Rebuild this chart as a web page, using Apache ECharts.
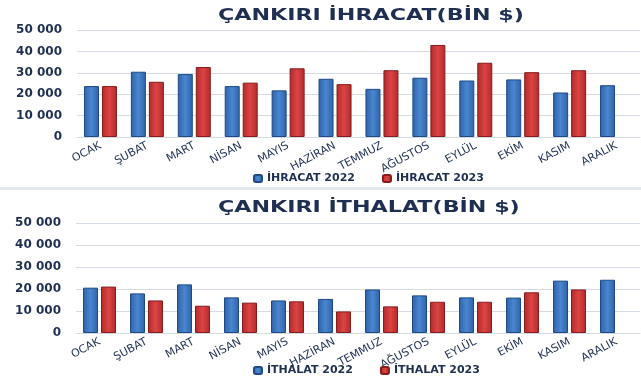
<!DOCTYPE html>
<html>
<head>
<meta charset="utf-8">
<script src="https://cdn.jsdelivr.net/npm/echarts@6/dist/echarts.min.js"></script>
<style>
html,body{margin:0;padding:0;background:#fff;}
#c{width:641px;height:380px;}
</style>
</head>
<body>
<div id="c"></div>
<script>
const months = ['OCAK','ŞUBAT','MART','NİSAN','MAYIS','HAZİRAN','TEMMUZ','AĞUSTOS','EYLÜL','EKİM','KASIM','ARALIK'];
const ihracat2022 = [23800,30500,29400,23800,21800,27200,22500,27700,26400,26900,20800,24200];
const ihracat2023 = [23800,25800,32700,25400,32100,24700,31200,43000,34700,30300,31200,null];
const ithalat2022 = [20600,18000,22100,16200,14800,15500,19800,17100,16200,16100,23800,24200];
const ithalat2023 = [21100,14800,12400,13800,14400,9800,12100,14200,14200,18500,19800,null];
const yTicks = [0,10000,20000,30000,40000,50000];
const titles = ['ÇANKIRI İHRACAT(BİN $)','ÇANKIRI İTHALAT(BİN $)'];

const navy = '#1f2f52';
const fontFam = '"DejaVu Sans", Verdana, sans-serif';

function blueGrad(){
  return new echarts.graphic.LinearGradient(0,0,1,0,[
    {offset:0,color:'#2e62a8'},{offset:0.5,color:'#4a86d0'},{offset:1,color:'#2e62a8'}]);
}
function redGrad(){
  return new echarts.graphic.LinearGradient(0,0,1,0,[
    {offset:0,color:'#b02a2a'},{offset:0.5,color:'#dc4444'},{offset:1,color:'#b02a2a'}]);
}
function yfmt(v){ return v===0 ? '0' : (Math.floor(v/1000)+' 000'); }

const gridDefs = [{left:77,right:1,top:30,height:107},{left:76,right:1,top:223,height:110}];

function xAx(i){
  return {type:'category',gridIndex:i,data:months,
    axisLine:{show:true,lineStyle:{color:'#d5dbe3'}},axisTick:{show:false},
    axisLabel:{rotate:28,color:navy,fontSize:11,fontFamily:fontFam,margin:8,interval:0}};
}
function yAx(i){
  return {type:'value',gridIndex:i,min:yTicks[0],max:yTicks[yTicks.length-1],interval:10000,
    axisLine:{show:false},axisTick:{show:false},
    splitLine:{lineStyle:{color:'#d5dbe3',width:1}},
    axisLabel:{formatter:yfmt,color:navy,fontSize:12,fontWeight:'bold',fontFamily:fontFam,margin:15}};
}
function bar(name,data,i,isBlue){
  return {name:name,type:'bar',xAxisIndex:i,yAxisIndex:i,data:data,barWidth:15,barGap:'20%',
    itemStyle:{color:isBlue?blueGrad():redGrad(),borderColor:isBlue?'#1d4a85':'#861c1c',borderWidth:1}};
}
function titleText(t,y){
  return {type:'text',x:218,y:y,scaleX:1.48,silent:true,
    style:{text:t,fill:navy,font:'bold 15px '+fontFam,textVerticalAlign:'top'}};
}
function legendDef(names,top){
  return {data:names,left:253,top:top,padding:0,itemWidth:8,itemHeight:7,itemGap:27,
    textStyle:{color:navy,fontSize:11,fontWeight:'bold',fontFamily:fontFam}};
}

const chart = echarts.init(document.getElementById('c'),null,{renderer:'canvas'});
chart.setOption({
  backgroundColor:'#ffffff',
  animation:false,
  legend:[
    legendDef(['İHRACAT 2022','İHRACAT 2023'],173),
    legendDef(['İTHALAT 2022','İTHALAT 2023'],365)
  ],
  grid:gridDefs,
  xAxis:[xAx(0),xAx(1)],
  yAxis:[yAx(0),yAx(1)],
  series:[
    bar('İHRACAT 2022',ihracat2022,0,true),
    bar('İHRACAT 2023',ihracat2023,0,false),
    bar('İTHALAT 2022',ithalat2022,1,true),
    bar('İTHALAT 2023',ithalat2023,1,false)
  ],
  graphic:[
    {type:'rect',shape:{x:0,y:187,width:641,height:3},style:{fill:'#e3e8ee'},silent:true},
    titleText(titles[0],9),
    titleText(titles[1],201)
  ]
});
</script>
</body>
</html>
